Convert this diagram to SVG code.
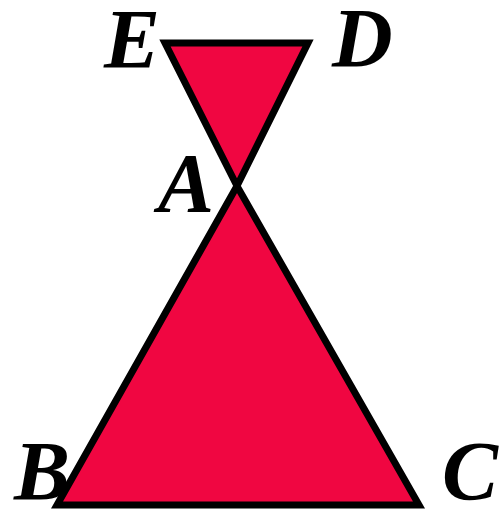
<svg xmlns="http://www.w3.org/2000/svg" width="502" height="510" viewBox="0 0 502 510">
<style>
.tri{fill:#F00641;stroke:#000;stroke-width:7;stroke-linejoin:miter;stroke-miterlimit:10}
.lbl{font-family:"Liberation Serif","Times New Roman",serif;font-weight:bold;font-style:italic;font-size:84px;fill:#000}
</style>
<rect width="502" height="510" fill="#fff"/>
<g id="connectors">
<polygon id="top" class="tri" points="165,43 308,43 237,186"/>
<polygon id="bottom" class="tri" points="237,186 57,505 419,505"/>
</g>
<g id="E"><text class="lbl" x="104" y="68">E</text></g>
<g id="D"><text class="lbl" x="332" y="67">D</text></g>
<g id="A"><text class="lbl" x="158" y="212">A</text></g>
<g id="B"><text class="lbl" x="14" y="500">B</text></g>
<g id="C"><text class="lbl" x="442" y="500">C</text></g>
</svg>
